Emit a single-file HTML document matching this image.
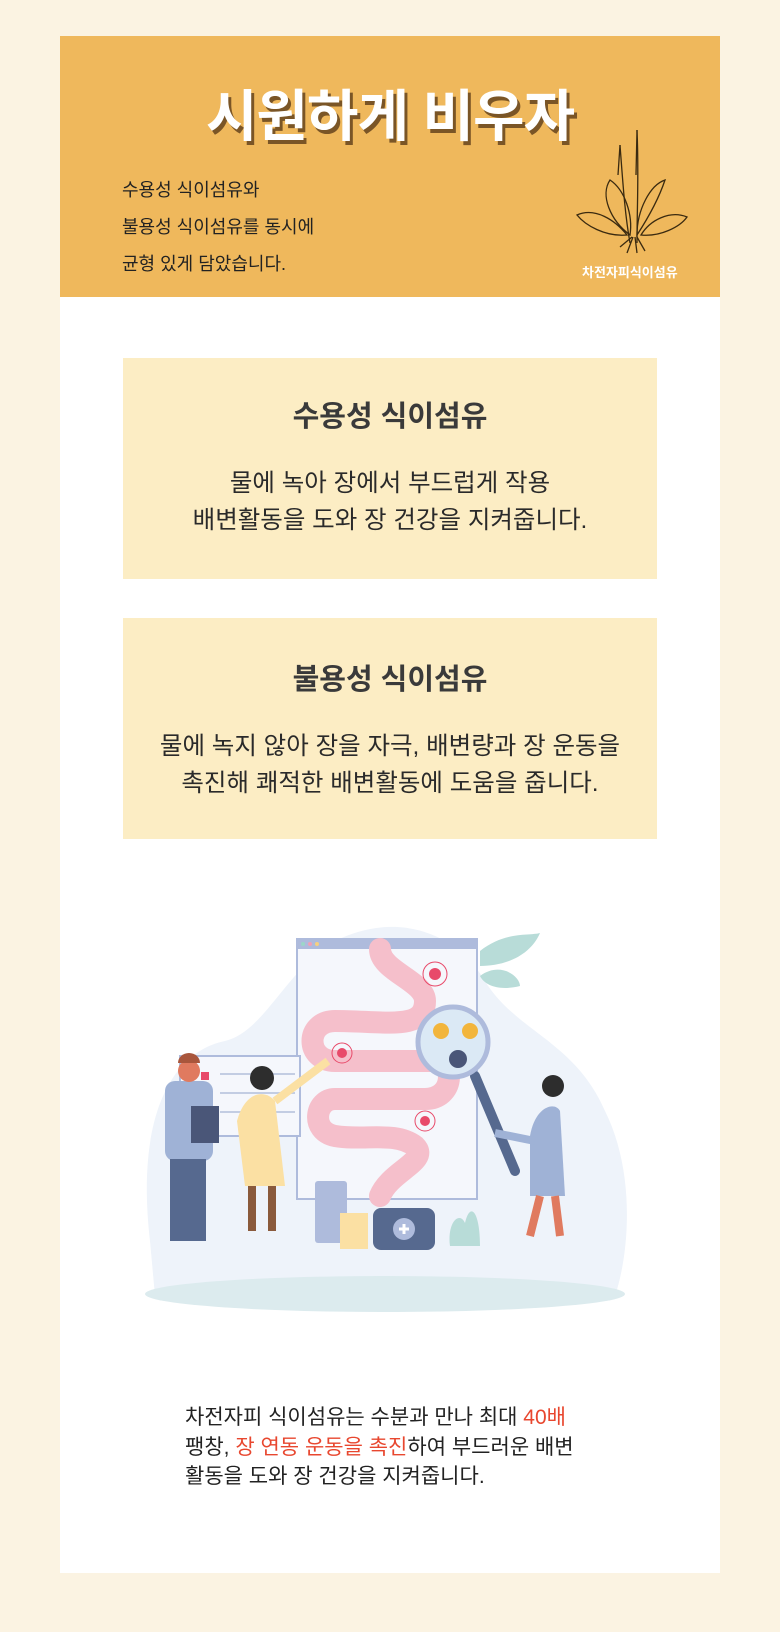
<!DOCTYPE html>
<html><head><meta charset="utf-8"><style>
*{margin:0;padding:0;box-sizing:border-box}
body{width:780px;height:1632px;background:#fbf3e2;position:relative;overflow:hidden;font-family:"Liberation Sans","Noto Sans CJK KR",sans-serif;}
.panel{position:absolute;left:60px;top:36px;width:660px;height:1537px;background:#fff}
.hdr{position:absolute;left:60px;top:36px;width:660px;height:261px;background:#efb85c}
.t{position:absolute;white-space:nowrap}
.title{left:0;width:780px;text-align:center;top:72px;font-size:56px;font-weight:bold;color:#fff;text-shadow:3px 4px 0 #7a5526;letter-spacing:-1px}
.hl{left:122px;font-size:18px;color:#222}
.box{position:absolute;left:123px;width:534px;height:221px;background:#fcedc4;text-align:center;color:#333}
.box h2{font-size:29px;line-height:42px;font-weight:bold;margin-top:38px;color:#3a3a3a}
.box p{font-size:24.5px;line-height:37px;margin-top:27px;color:#2a2a2a}
.b2 h2{margin-top:41px}
.r{color:#e8472f}
.bt{left:185px;font-size:21px;color:#222;line-height:29.5px;white-space:normal;width:440px}
</style></head><body>
<div class="panel"></div>
<div class="hdr"></div>
<div class="t title">시원하게 비우자</div>
<div class="t hl" style="top:176px">수용성 식이섬유와</div>
<div class="t hl" style="top:213px">불용성 식이섬유를 동시에</div>
<div class="t hl" style="top:250px">균형 있게 담았습니다.</div>
<svg style="position:absolute;left:575px;top:125px" width="120" height="130" viewBox="0 0 120 130" fill="none" stroke="#3a2a10" stroke-width="1.3">
<path d="M55 118 C50 90 48 60 45 20 M62 118 C62 80 64 50 62 5"/>
<path d="M45 20 l-2 30 M62 5 l-1 45"/>
<path d="M55 110 C35 95 25 70 35 55 C50 65 58 90 55 110Z"/>
<path d="M62 110 C75 90 85 70 90 55 C75 60 62 85 62 110Z"/>
<path d="M52 110 C30 112 10 100 2 90 C20 82 40 95 52 110Z"/>
<path d="M66 110 C85 112 105 102 112 92 C95 85 75 95 66 110Z"/>
<path d="M58 112 l-6 16 M60 112 l2 16 M62 112 l8 14 M57 112 l-12 10"/>
</svg>
<div class="t" style="left:582px;top:262px;font-size:13px;font-weight:bold;color:#fff">차전자피식이섬유</div>

<div class="box" style="top:358px"><h2>수용성 식이섬유</h2><p>물에 녹아 장에서 부드럽게 작용<br>배변활동을 도와 장 건강을 지켜줍니다.</p></div>
<div class="box b2" style="top:618px"><h2>불용성 식이섬유</h2><p>물에 녹지 않아 장을 자극, 배변량과 장 운동을<br>촉진해 쾌적한 배변활동에 도움을 줍니다.</p></div>

<svg style="position:absolute;left:135px;top:911px" width="500" height="410" viewBox="0 0 500 410">
<path d="M15 330 C0 200 40 140 90 130 C130 120 150 60 200 30 C260 0 320 20 350 70 C380 120 440 130 470 200 C500 260 495 340 480 385 L20 385Z" fill="#eef3fa"/>
<ellipse cx="250" cy="383" rx="240" ry="18" fill="#dcebee"/>
<rect x="162" y="28" width="180" height="260" fill="#f5f7fc" stroke="#aebbdc" stroke-width="2"/>
<rect x="162" y="28" width="180" height="10" fill="#aebbdc"/>
<circle cx="168" cy="33" r="2" fill="#9cd6c8"/><circle cx="175" cy="33" r="2" fill="#f0a0b8"/><circle cx="182" cy="33" r="2" fill="#f5d080"/>
<path d="M245 38 C245 60 290 70 290 90 C290 120 250 110 200 110 C170 110 170 150 200 150 L300 150 C320 150 320 188 290 188 L200 188 C180 188 175 220 200 225 C230 230 260 220 280 235 C295 250 255 260 245 285" fill="none" stroke="#f5bfcb" stroke-width="22" stroke-linecap="round"/>
<circle cx="300" cy="63" r="12" fill="none" stroke="#e84a6a" stroke-width="1"/><circle cx="300" cy="63" r="6" fill="#e84a6a"/>
<circle cx="207" cy="142" r="10" fill="none" stroke="#e84a6a" stroke-width="1"/><circle cx="207" cy="142" r="5" fill="#e84a6a"/>
<circle cx="290" cy="210" r="10" fill="none" stroke="#e84a6a" stroke-width="1"/><circle cx="290" cy="210" r="5" fill="#e84a6a"/>
<path d="M345 40 C370 20 395 25 405 22 C395 45 370 55 345 55Z M345 65 C365 50 385 65 385 75 C365 80 350 75 345 65Z" fill="#b8dcd8"/>
<rect x="45" y="145" width="120" height="80" fill="#f5f7fc" stroke="#aebbdc" stroke-width="2"/>
<rect x="66" y="161" width="8" height="8" fill="#e84a6a"/><rect x="66" y="180" width="8" height="8" fill="#e84a6a"/><rect x="66" y="199" width="8" height="8" fill="#e84a6a"/>
<path d="M85 163h75M85 182h75M85 201h75" stroke="#c3cde3" stroke-width="2"/>
<line x1="340" y1="165" x2="380" y2="260" stroke="#56698f" stroke-width="10" stroke-linecap="round"/>
<circle cx="318" cy="131" r="35" fill="#dbe9f5" stroke="#aebbdc" stroke-width="5"/>
<circle cx="323" cy="148" r="9" fill="#4a5678"/><circle cx="335" cy="120" r="8" fill="#f2b53c"/><circle cx="306" cy="120" r="8" fill="#f2b53c"/>
<rect x="30" y="170" width="48" height="80" rx="10" fill="#9fb2d6"/>
<circle cx="54" cy="160" r="11" fill="#e07a5f"/><path d="M43 152a11 10 0 0 1 22 0z" fill="#a9563c"/>
<rect x="35" y="248" width="36" height="82" fill="#56698f"/>
<rect x="56" y="195" width="28" height="37" fill="#4a5678"/>
<path d="M102 210 C110 180 130 178 140 190 L150 275 L110 275Z" fill="#fbe0a3"/>
<circle cx="127" cy="167" r="12" fill="#2d2d2d"/>
<path d="M140 190 L193 150" stroke="#fbe0a3" stroke-width="8"/>
<rect x="113" y="275" width="8" height="45" fill="#8a5a3c"/><rect x="133" y="275" width="8" height="45" fill="#8a5a3c"/>
<path d="M395 225 C400 195 420 190 425 200 L430 285 L395 285Z" fill="#9fb2d6"/>
<circle cx="418" cy="175" r="11" fill="#2d2d2d"/>
<path d="M400 230 L360 222" stroke="#9fb2d6" stroke-width="8"/>
<path d="M405 285 L395 325 M420 285 L425 325" stroke="#e07a5f" stroke-width="8"/>
<rect x="180" y="270" width="32" height="62" rx="3" fill="#aebbdc"/>
<rect x="205" y="302" width="28" height="36" fill="#fbe0a3"/>
<rect x="238" y="297" width="62" height="42" rx="8" fill="#56698f"/><circle cx="269" cy="318" r="11" fill="#aebbdc"/>
<path d="M264 318h10M269 313v10" stroke="#fff" stroke-width="3"/>
<path d="M315 335 C312 310 325 300 330 312 C335 290 345 300 345 335Z" fill="#b8dcd8"/>
</svg>

<div class="t bt" style="top:1403px">차전자피 식이섬유는 수분과 만나 최대 <span class="r">40배</span><br>팽창, <span class="r">장 연동 운동을 촉진</span>하여 부드러운 배변<br>활동을 도와 장 건강을 지켜줍니다.</div>
</body></html>
